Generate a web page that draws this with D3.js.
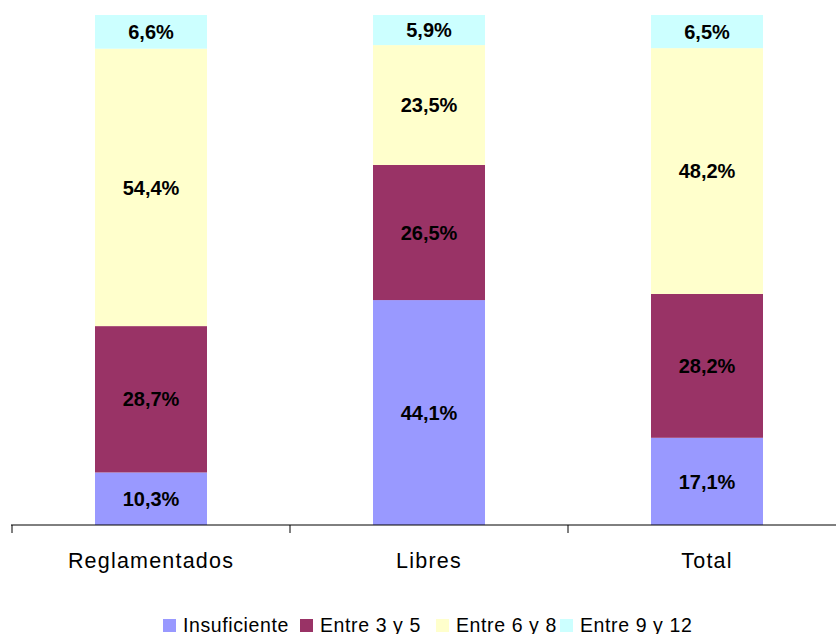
<!DOCTYPE html>
<html>
<head>
<meta charset="utf-8">
<script src="https://cdn.jsdelivr.net/npm/d3@7"></script>
<style>
  body { margin: 0; background: #fff; }
  text { font-family: "Liberation Sans", Arial, sans-serif; }
</style>
</head>
<body>
<div id="chart"></div>
<script>
const w = 836, h = 634;

const categories = ["Reglamentados", "Libres", "Total"];
const seriesNames = ["Insuficiente", "Entre 3 y 5", "Entre 6 y 8", "Entre 9 y 12"];
const insuficiente = [10.3, 44.1, 17.1];
const entre3y5 = [28.7, 26.5, 28.2];
const entre6y8 = [54.4, 23.5, 48.2];
const entre9y12 = [6.6, 5.9, 6.5];
const colors = ["#9999FF", "#993366", "#FFFFCC", "#CCFFFF"];

const rows = categories.map((c, i) => ({
  cat: c,
  "Insuficiente": insuficiente[i],
  "Entre 3 y 5": entre3y5[i],
  "Entre 6 y 8": entre6y8[i],
  "Entre 9 y 12": entre9y12[i]
}));

const svg = d3.select("#chart").append("svg")
  .attr("width", w).attr("height", h)
  .attr("viewBox", "0 0 " + w + " " + h);

const x = d3.scaleBand().domain(categories).range([12, 846]).paddingInner(0).paddingOuter(0);
const y = d3.scaleLinear().domain([0, 100]).range([525, 15]);
const barW = 112;

const stack = d3.stack().keys(seriesNames)(rows);

const layers = svg.selectAll("g.layer").data(stack).enter().append("g")
  .attr("class", "layer")
  .style("fill", (d, i) => colors[i]);

layers.selectAll("rect").data(d => d).enter().append("rect")
  .attr("x", d => x(d.data.cat) + x.bandwidth() / 2 - barW / 2)
  .attr("width", barW)
  .attr("y", d => y(d[1]))
  .attr("height", d => y(d[0]) - y(d[1]));

layers.selectAll("text").data(d => d).enter().append("text")
  .attr("x", d => x(d.data.cat) + x.bandwidth() / 2)
  .attr("y", d => (y(d[0]) + y(d[1])) / 2)
  .attr("dy", "0.36em")
  .attr("text-anchor", "middle")
  .style("fill", "#000")
  .style("font-weight", "bold")
  .style("font-size", "20px")
  .text(d => (d[1] - d[0]).toFixed(1).replace(".", ",") + "%");

// x axis
svg.append("line").attr("x1", 11).attr("x2", w).attr("y1", 525).attr("y2", 525)
  .attr("stroke", "#000").attr("stroke-width", 1);
svg.selectAll("line.tick").data([12, 290, 568]).enter().append("line")
  .attr("class", "tick")
  .attr("x1", d => d).attr("x2", d => d).attr("y1", 525).attr("y2", 533)
  .attr("stroke", "#000");

svg.selectAll("text.cat").data(categories).enter().append("text")
  .attr("class", "cat")
  .attr("x", d => x(d) + x.bandwidth() / 2)
  .attr("y", 568)
  .attr("text-anchor", "middle")
  .style("font-size", "21.5px")
  .style("letter-spacing", "1.2px")
  .style("fill", "#000")
  .text(d => d);

// legend
const legendX = [163, 300, 436, 560];
const legend = svg.selectAll("g.leg").data(seriesNames).enter().append("g")
  .attr("class", "leg")
  .attr("transform", (d, i) => "translate(" + legendX[i] + ",619)");
legend.append("rect").attr("width", 13).attr("height", 13)
  .style("fill", (d, i) => colors[i]);
legend.append("text").attr("x", 20).attr("y", 12.5)
  .style("font-size", "19.5px").style("letter-spacing", "0.6px").style("fill", "#000")
  .text(d => d);
</script>
</body>
</html>
